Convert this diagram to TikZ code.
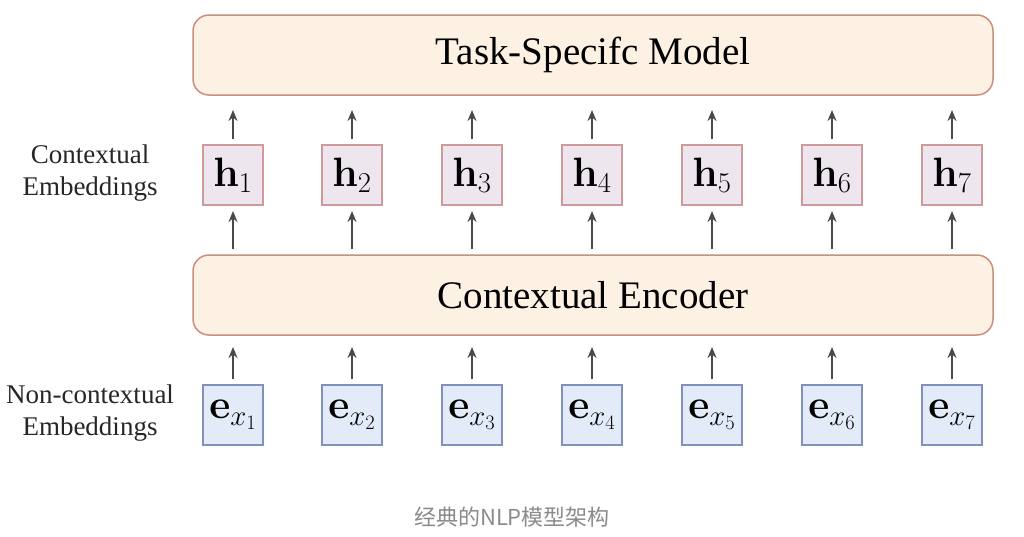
\RequirePackage{fix-cm}
\documentclass[tikz,border=0pt]{standalone}
\usepackage[no-math]{fontspec}
\setmainfont{Liberation Serif}
\newfontfamily\cjkfont{Noto Sans CJK SC}
\usetikzlibrary{arrows.meta}
\definecolor{bigfill}{HTML}{FDF1E4}
\definecolor{bigdraw}{HTML}{C8907E}
\definecolor{hfill}{HTML}{EEE6EE}
\definecolor{hdraw}{HTML}{D09A9A}
\definecolor{efill}{HTML}{E2EBF7}
\definecolor{edraw}{HTML}{8091BC}
\definecolor{arr}{HTML}{4A4A4A}
\definecolor{capgray}{HTML}{8A8A8A}
\tikzset{
  bigbox/.style={draw=bigdraw, fill=bigfill, line width=1.5pt, rounded corners=16pt,
    minimum width=800pt, minimum height=80pt, font=\fontsize{39}{44}\selectfont, inner sep=0pt},
  hbox/.style={draw=hdraw, fill=hfill, line width=1.3pt, minimum width=60pt, minimum height=60pt, inner sep=0pt,
    font=\fontsize{41}{44}\selectfont},
  ebox/.style={draw=edraw, fill=efill, line width=1.3pt, minimum width=60pt, minimum height=60pt, inner sep=0pt,
    font=\fontsize{41}{44}\selectfont},
  uparrow/.style={draw=arr, line width=2pt, -{Stealth[length=11pt,width=9pt]}},
  sidelabel/.style={align=center, font=\fontsize{27}{32}\selectfont, text=black!85},
}
\begin{document}
\begin{tikzpicture}[x=1pt,y=-1pt]
\useasboundingbox (0,0) rectangle (1024,536);
\node[bigbox] (task) at (593,55) {Task-Specifc Model};
\node[bigbox] (enc) at (593,295) {Contextual Encoder};
\foreach \i/\x in {1/233,2/352,3/472,4/592,5/712,6/832,7/952}{
  \node[hbox] (h\i) at (\x,175) {$\mathbf{h}_{\i}$};
  \node[ebox] (e\i) at (\x,415) {$\mathbf{e}_{x_{\i}}$};
  \coordinate (ta\i) at (\x,110);
  \coordinate (ea\i) at (\x,211);
  \coordinate (ca\i) at (\x,347);
  \draw[uparrow] ([yshift=5pt]h\i.north) -- (ta\i);
  \draw[uparrow] ([yshift=5pt]enc.north -| h\i) -- (ea\i);
  \draw[uparrow] ([yshift=5pt]e\i.north) -- (ca\i);
}
\node[sidelabel] (lc) at (90,173) {Contextual\\Embeddings};
\node[sidelabel] (ln) at (90,413) {Non-contextual\\Embeddings};
\node[text=capgray, font=\cjkfont\fontsize{22}{26}\selectfont] (cap) at (512,517) {经典的NLP模型架构};
\end{tikzpicture}
\end{document}
